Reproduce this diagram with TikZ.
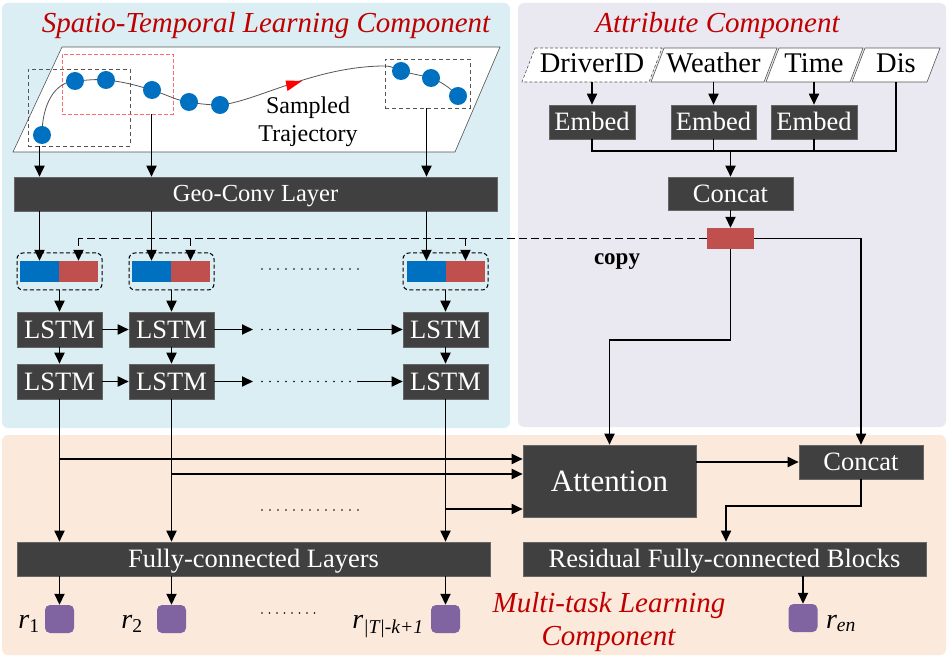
\documentclass[tikz,border=0pt]{standalone}
\usepackage{fontspec}
\setmainfont{Liberation Serif}
\usetikzlibrary{arrows.meta,calc}

\definecolor{stblue}{HTML}{DBEEF4}
\definecolor{atpurple}{HTML}{EAE8F0}
\definecolor{mtpeach}{HTML}{FBE9DC}
\definecolor{boxgray}{HTML}{404040}
\definecolor{vecblue}{HTML}{0070C0}
\definecolor{vecred}{HTML}{C0504D}
\definecolor{outpurple}{HTML}{8064A2}
\definecolor{titlered}{HTML}{C00000}
\definecolor{dashpink}{HTML}{FF6A6A}
\definecolor{edgegray}{HTML}{555555}

\begin{document}
\begin{tikzpicture}[x=1pt,y=-1pt,
  panel/.style={rounded corners=6pt, draw=none},
  dbox/.style={fill=boxgray, draw=boxgray!80!white, line width=0.6pt, text=white,
    inner sep=0pt, text height=20pt, text depth=2.6pt,
    font=\fontsize{26.5}{30}\selectfont},
  title/.style={text=titlered, font=\fontsize{29}{34}\selectfont\itshape, anchor=base, inner sep=0pt},
  conn/.style={line width=1.8pt, -{Triangle[length=11pt,width=10pt]}},
  wire/.style={line width=1.8pt},
  copyln/.style={line width=1.8pt, dash pattern=on 8pt off 4pt},
  dotline/.style={line width=1.9pt, line cap=round, dash pattern=on 0pt off 8pt},
  pt/.style={circle, fill=vecblue, minimum size=18pt, inner sep=0pt},
  vecb/.style={fill=vecblue, minimum width=39pt, minimum height=21pt, inner sep=0pt},
  vecr/.style={fill=vecred, minimum width=39pt, minimum height=21pt, inner sep=0pt},
  vecwrap/.style={draw, dash pattern=on 4pt off 2.5pt, line width=1pt, rounded corners=6pt,
    minimum width=85pt, minimum height=37pt, inner sep=0pt},
  outbox/.style={fill=outpurple, rounded corners=5pt, minimum width=29pt,
    minimum height=28pt, inner sep=0pt},
  attrlab/.style={inner sep=0pt, minimum height=34pt, text height=20.5pt,
    text depth=4.5pt, font=\fontsize{28.5}{32}\selectfont},
  attrshape/.style={fill=white, draw=edgegray, line width=0.6pt},
  rlab/.style={anchor=base, inner sep=0pt, font=\fontsize{28}{32}\selectfont},
]
\useasboundingbox (0,0) rectangle (948,668);

% ---------- background panels ----------
\fill[panel, stblue]   (2,3)   rectangle (510,428);
\fill[panel, atpurple] (518,3) rectangle (946,427);
\fill[panel, mtpeach]  (2,435) rectangle (946,655);

\node[title] (sttitle) at (266,33) {Spatio-Temporal Learning Component};
\node[title] (attitle) at (717.5,33) {Attribute Component};
\node[title] (mttitle1) at (609,612) {Multi-task Learning};
\node[title] (mttitle2) at (608.5,645) {Component};

% ---------- sampled trajectory ----------
\draw[attrshape] (62,47) -- (500,47) -- (455,152) -- (13,152) -- cycle;

\node[draw=edgegray, dash pattern=on 4pt off 3pt, line width=0.8pt, minimum width=102pt,
  minimum height=77pt, inner sep=0pt] (win1) at (79,107.5) {};
\node[draw=dashpink, dash pattern=on 4pt off 2pt, line width=0.8pt, minimum width=111pt,
  minimum height=60pt, inner sep=0pt] (win2) at (117.5,84) {};
\node[draw=edgegray, dash pattern=on 4pt off 3pt, line width=0.8pt, minimum width=85pt,
  minimum height=49pt, inner sep=0pt] (win3) at (427.5,83.5) {};

\draw[edgegray, line width=0.8pt]
  (42,135) .. controls (42,104) and (55,82) .. (75,81)
  .. controls (90,80) and (95,79) .. (106,80)
  .. controls (125,82) and (135,85) .. (152,90)
  .. controls (170,96) and (178,101) .. (189,102)
  .. controls (200,104) and (210,105) .. (220,105)
  .. controls (255,102) and (315,66) .. (385,66)
  .. controls (392,66) and (396,69) .. (401,71)
  .. controls (412,74) and (420,75) .. (431,78)
  .. controls (442,82) and (450,88) .. (458,96);
\fill[red] (302,81) -- (287.5,91) -- (285.5,80.5) -- cycle;

\node[pt] (p1) at (42,135) {};
\node[pt] (p2) at (75,81) {};
\node[pt] (p3) at (106,80) {};
\node[pt] (p4) at (152,90) {};
\node[pt] (p5) at (189,102) {};
\node[pt] (p6) at (220,105) {};
\node[pt] (p7) at (401,71) {};
\node[pt] (p8) at (431,78) {};
\node[pt] (p9) at (458,96) {};

\node[anchor=base, inner sep=0pt, font=\fontsize{24}{28}\selectfont] (samp1) at (308,114) {Sampled};
\node[anchor=base, inner sep=0pt, font=\fontsize{24}{28}\selectfont] (samp2) at (308,142) {Trajectory};

% ---------- spatio-temporal blocks ----------
\node[dbox, minimum width=483pt, minimum height=34pt, text height=18.6pt, text depth=2.6pt,
  font=\fontsize{24.5}{28}\selectfont] (geo) at (255.5,194) {Geo-Conv Layer};

\node[vecwrap] (wrapA) at (59.5,271.5) {};
\node[vecwrap] (wrapB) at (171.5,271.5) {};
\node[vecwrap] (wrapC) at (445.5,271.5) {};
\node[vecb] (blueA) at (39.5,271.5) {};
\node[vecr] (redA)  at (78.5,271.5) {};
\node[vecb] (blueB) at (151.5,271.5) {};
\node[vecr] (redB)  at (190.5,271.5) {};
\node[vecb] (blueC) at (426.5,271.5) {};
\node[vecr] (redC)  at (465.5,271.5) {};

\foreach \c/\x in {A/59.5, B/171.5, C/445.5}{
  \node[dbox, minimum width=85pt, minimum height=35pt] (lstm\c1) at (\x,329.5) {LSTM};
  \node[dbox, minimum width=85pt, minimum height=35pt] (lstm\c2) at (\x,381.5) {LSTM};
}

\node[dbox, minimum width=473pt, minimum height=34pt] (fc) at (253.5,559) {Fully-connected Layers};

\node[outbox] (oA) at (59.5,619) {};
\node[outbox] (oB) at (171.5,619) {};
\node[outbox] (oC) at (445.5,619) {};
\node[outbox] (oE) at (803,618) {};

\node[rlab] (lA) at (29,628) {\textit{r}\textsubscript{1}};
\node[rlab] (lB) at (132,628) {\textit{r}\textsubscript{2}};
\node[rlab] (lC) at (388,628) {\textit{r}\textsubscript{\textit{|T|-k+1}}};
\node[rlab] (lE) at (841,628) {\textit{r}\textsubscript{\textit{en}}};

% ---------- attribute blocks ----------
\draw[attrshape, dash pattern=on 3pt off 2pt] (535,48) -- (662,48) -- (649,82) -- (522,82) -- cycle;
\draw[attrshape] (664,48) -- (777,48) -- (764,82) -- (651,82) -- cycle;
\draw[attrshape] (779,48) -- (863,48) -- (850,82) -- (766,82) -- cycle;
\draw[attrshape] (865,48) -- (940,48) -- (927,82) -- (852,82) -- cycle;
\node[attrlab] (drv) at (592,65) {DriverID};
\node[attrlab] (wth) at (713.5,65) {Weather};
\node[attrlab] (tim) at (814,65) {Time};
\node[attrlab] (dis) at (896,65) {Dis};

\node[dbox, minimum width=86pt, minimum height=34pt] (emb1) at (592,122) {Embed};
\node[dbox, minimum width=85pt, minimum height=34pt] (emb2) at (713.5,122) {Embed};
\node[dbox, minimum width=86pt, minimum height=34pt] (emb3) at (814,122) {Embed};
\node[dbox, minimum width=125pt, minimum height=33pt] (cat1) at (730.5,193.5) {Concat};
\node[fill=vecred, minimum width=47pt, minimum height=21pt, inner sep=0pt] (attr) at (730.5,238.5) {};
\node[anchor=base, inner sep=0pt, font=\fontsize{23}{26}\selectfont\bfseries] (copytxt) at (617,265) {copy};

% ---------- multi-task blocks ----------
\node[dbox, minimum width=173pt, minimum height=72pt, text height=23.6pt, text depth=3.1pt,
  font=\fontsize{31}{34}\selectfont] (att) at (609.5,481) {Attention};
\node[dbox, minimum width=124pt, minimum height=34pt] (cat2) at (861,462) {Concat};
\node[dbox, minimum width=403pt, minimum height=34pt] (res) at (724.5,559) {Residual Fully-connected Blocks};

% ---------- connectors: trajectory to Geo-Conv to feature vectors ----------
\draw[conn] (win1.south -| blueA) -- (geo.north -| blueA);
\draw[conn] (win2.south -| blueB) -- (geo.north -| blueB);
\draw[conn] (win3.south -| blueC) -- (geo.north -| blueC);
\draw[conn] (geo.south -| blueA) -- (blueA.north);
\draw[conn] (geo.south -| blueB) -- (blueB.north);
\draw[conn] (geo.south -| blueC) -- (blueC.north);

% copied attribute vector
\draw[copyln] (attr.west) -- (attr.west -| redA);
\draw[copyln, -{Triangle[length=11pt,width=10pt]}] (attr.west -| redA) -- (redA.north);
\draw[copyln, -{Triangle[length=11pt,width=10pt]}] (attr.west -| redB) -- (redB.north);
\draw[copyln, -{Triangle[length=11pt,width=10pt]}] (attr.west -| redC) -- (redC.north);

\coordinate (dv1) at (262,269);
\coordinate (dv2) at (358,269);
\draw[dotline] (dv1) -- (dv2);

% ---------- LSTM stack ----------
\foreach \c in {A,B,C}{
  \draw[conn] (wrap\c) -- (lstm\c1);
  \draw[conn] (lstm\c1) -- (lstm\c2);
  \draw[conn] (lstm\c2) -- (fc.north -| lstm\c2);
  \draw[conn] (fc.south -| o\c) -- (o\c.north);
}
\draw[conn] (lstmA1) -- (lstmB1);
\draw[conn] (lstmA2) -- (lstmB2);
\coordinate (r1s) at (253,329.5);
\coordinate (r1d) at (262,329.5);
\coordinate (r1e) at (358,329.5);
\coordinate (r2s) at (253,381.5);
\coordinate (r2d) at (262,381.5);
\coordinate (r2e) at (358,381.5);
\draw[conn] (lstmB1.east) -- (r1s);
\draw[dotline] (r1d) -- (r1e);
\draw[conn] (r1e) -- (lstmC1.west);
\draw[conn] (lstmB2.east) -- (r2s);
\draw[dotline] (r2d) -- (r2e);
\draw[conn] (r2e) -- (lstmC2.west);

% hidden states to attention
\coordinate (jA) at (59.5,459);
\coordinate (jB) at (171.5,474);
\coordinate (jC) at (445.5,509);
\draw[conn] (jA) -- (jA -| att.west);
\draw[conn] (jB) -- (jB -| att.west);
\draw[conn] (jC) -- (jC -| att.west);

\coordinate (dm1) at (262,510);
\coordinate (dm2) at (358,510);
\draw[dotline] (dm1) -- (dm2);
\coordinate (db1) at (262,613);
\coordinate (db2) at (322,613);
\draw[dotline, dash pattern=on 0pt off 7.5pt] (db1) -- (db2);

% ---------- attribute connectors ----------
\draw[conn] (drv) -- (emb1);
\draw[conn] (wth) -- (emb2);
\draw[conn] (tim) -- (emb3);
\coordinate (bus) at (730.5,151);
\draw[wire] (emb1.south) |- (bus -| dis) -- (dis.south);
\draw[wire] (emb2.south) -- (emb2.south |- bus);
\draw[wire] (emb3.south) -- (emb3.south |- bus);
\draw[conn] (bus) -- (cat1.north);
\draw[conn] (cat1) -- (attr);
\draw[conn] (attr.east) -| (cat2.north);
\draw[conn] (attr.south) -- ++(0,91) -| (att.north);

% ---------- multi-task connectors ----------
\draw[conn] (att.east |- cat2.west) -- (cat2.west);
\draw[conn] (cat2.south) -- ++(0,27) -| ([xshift=1.5pt]res.north);
\draw[conn] (res.south -| oE) -- (oE.north);

\end{tikzpicture}
\end{document}
